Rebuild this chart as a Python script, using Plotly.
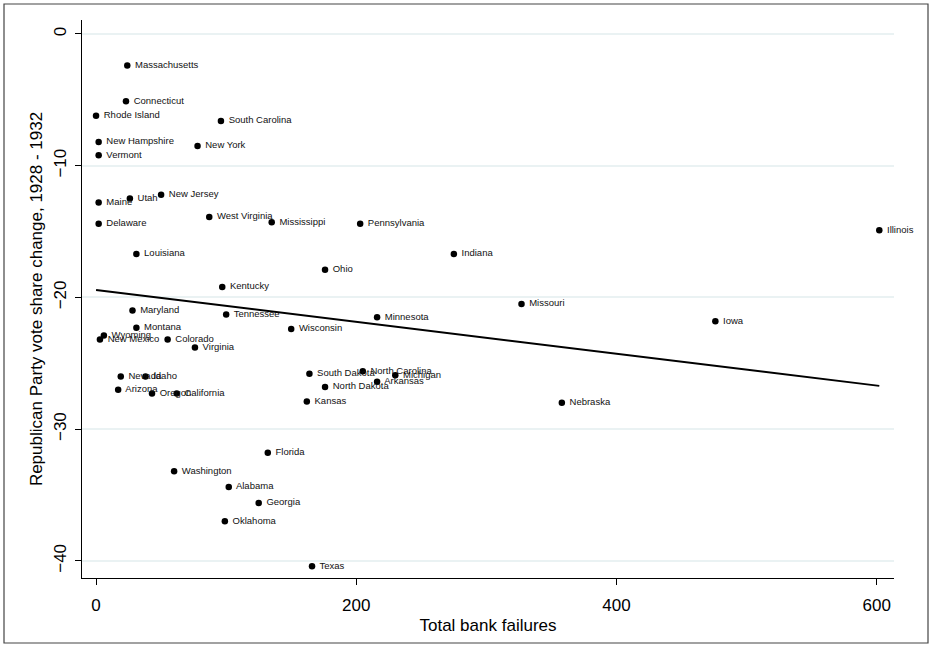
import numpy as np
import plotly.graph_objects as go

states = ["Massachusetts", "Connecticut", "Rhode Island", "South Carolina", "New Hampshire",
          "New York", "Vermont", "Maine", "Utah", "New Jersey", "West Virginia", "Mississippi",
          "Delaware", "Pennsylvania", "Illinois", "Louisiana", "Indiana", "Ohio", "Kentucky",
          "Missouri", "Maryland", "Tennessee", "Minnesota", "Iowa", "Montana", "Wisconsin",
          "Wyoming", "New Mexico", "Colorado", "Virginia", "South Dakota", "North Carolina",
          "Michigan", "Nevada", "Idaho", "Arkansas", "North Dakota", "Arizona", "Oregon",
          "California", "Kansas", "Nebraska", "Florida", "Washington", "Alabama", "Georgia",
          "Oklahoma", "Texas"]

bank_failures = [24, 23, 0, 96, 2, 78, 2, 2, 26, 50, 87, 135, 2, 203, 602, 31, 275, 176, 97,
                 327, 28, 100, 216, 476, 31, 150, 6, 3, 55, 76, 164, 205, 230, 19, 38, 216,
                 176, 17, 43, 62, 162, 358, 132, 60, 102, 125, 99, 166]

vote_change = [-2.4, -5.1, -6.2, -6.6, -8.2, -8.5, -9.2, -12.8, -12.5, -12.2, -13.9, -14.3,
               -14.4, -14.4, -14.9, -16.7, -16.7, -17.9, -19.2, -20.5, -21.0, -21.3, -21.5,
               -21.8, -22.3, -22.4, -22.9, -23.2, -23.2, -23.8, -25.8, -25.6, -25.9, -26.0,
               -26.0, -26.4, -26.8, -27.0, -27.3, -27.3, -27.9, -28.0, -31.8, -33.2, -34.4,
               -35.6, -37.0, -40.4]

x_ticks = [0, 200, 400, 600]
y_ticks = [0, -10, -20, -30, -40]

x_title = "Total bank failures"
y_title = "Republican Party vote share change, 1928 - 1932"

# linear fit from the data
slope, intercept = np.polyfit(bank_failures, vote_change, 1)
fit_x = [min(bank_failures), max(bank_failures)]
fit_y = [intercept + slope * v for v in fit_x]

FONT = "Liberation Sans, Arial, Helvetica, sans-serif"

fig = go.Figure()
fig.add_trace(go.Scatter(
    x=bank_failures, y=vote_change, mode="markers+text", text=states,
    texttemplate=" %{text}",
    textposition="middle right", textfont=dict(family=FONT, size=9.5, color="#111111"),
    marker=dict(color="black", size=6.5), showlegend=False, cliponaxis=False,
    hoverinfo="skip"))
fig.add_trace(go.Scatter(
    x=fit_x, y=fit_y, mode="lines", line=dict(color="black", width=2),
    showlegend=False, hoverinfo="skip"))

W, H = 932, 647
L, R, T, B = 82, 38, 20, 69
pw, ph = W - L - R, H - T - B

def px2paper_x(px):
    return (px - L) / pw

def px2paper_y(py):
    return (H - B - py) / ph

fig.add_shape(type="rect", xref="paper", yref="paper",
              x0=px2paper_x(4), x1=px2paper_x(928), y0=px2paper_y(643), y1=px2paper_y(4),
              line=dict(color="#444444", width=1.2), fillcolor="rgba(0,0,0,0)", layer="below")

fig.update_layout(
    width=W, height=H, margin=dict(l=L, r=R, t=T, b=B),
    paper_bgcolor="white", plot_bgcolor="white",
    font=dict(family=FONT, color="black"),
    xaxis=dict(range=[-10.8, 613.3], tickvals=x_ticks, ticks="outside", ticklen=6,
               tickcolor="black", showline=True, linecolor="black", linewidth=1,
               showgrid=False, zeroline=False, tickfont=dict(size=17),
               ticklabelstandoff=6,
               title=dict(text=x_title, font=dict(size=17), standoff=4), automargin=False),
    yaxis=dict(range=[-41.3, 1.06], tickvals=y_ticks, ticks="outside", ticklen=6,
               tickcolor="black", showline=True, linecolor="black", linewidth=1,
               showgrid=True, gridcolor="#eaf2f3", gridwidth=1.5, zeroline=False,
               tickangle=-90, tickfont=dict(size=17), ticklabelstandoff=2,
               title=dict(text=y_title, font=dict(size=17), standoff=4), automargin=False),
)

fig.write_html("out.html", config={"displayModeBar": False},
               post_script="document.body.style.margin='0';document.body.style.padding='0';")
